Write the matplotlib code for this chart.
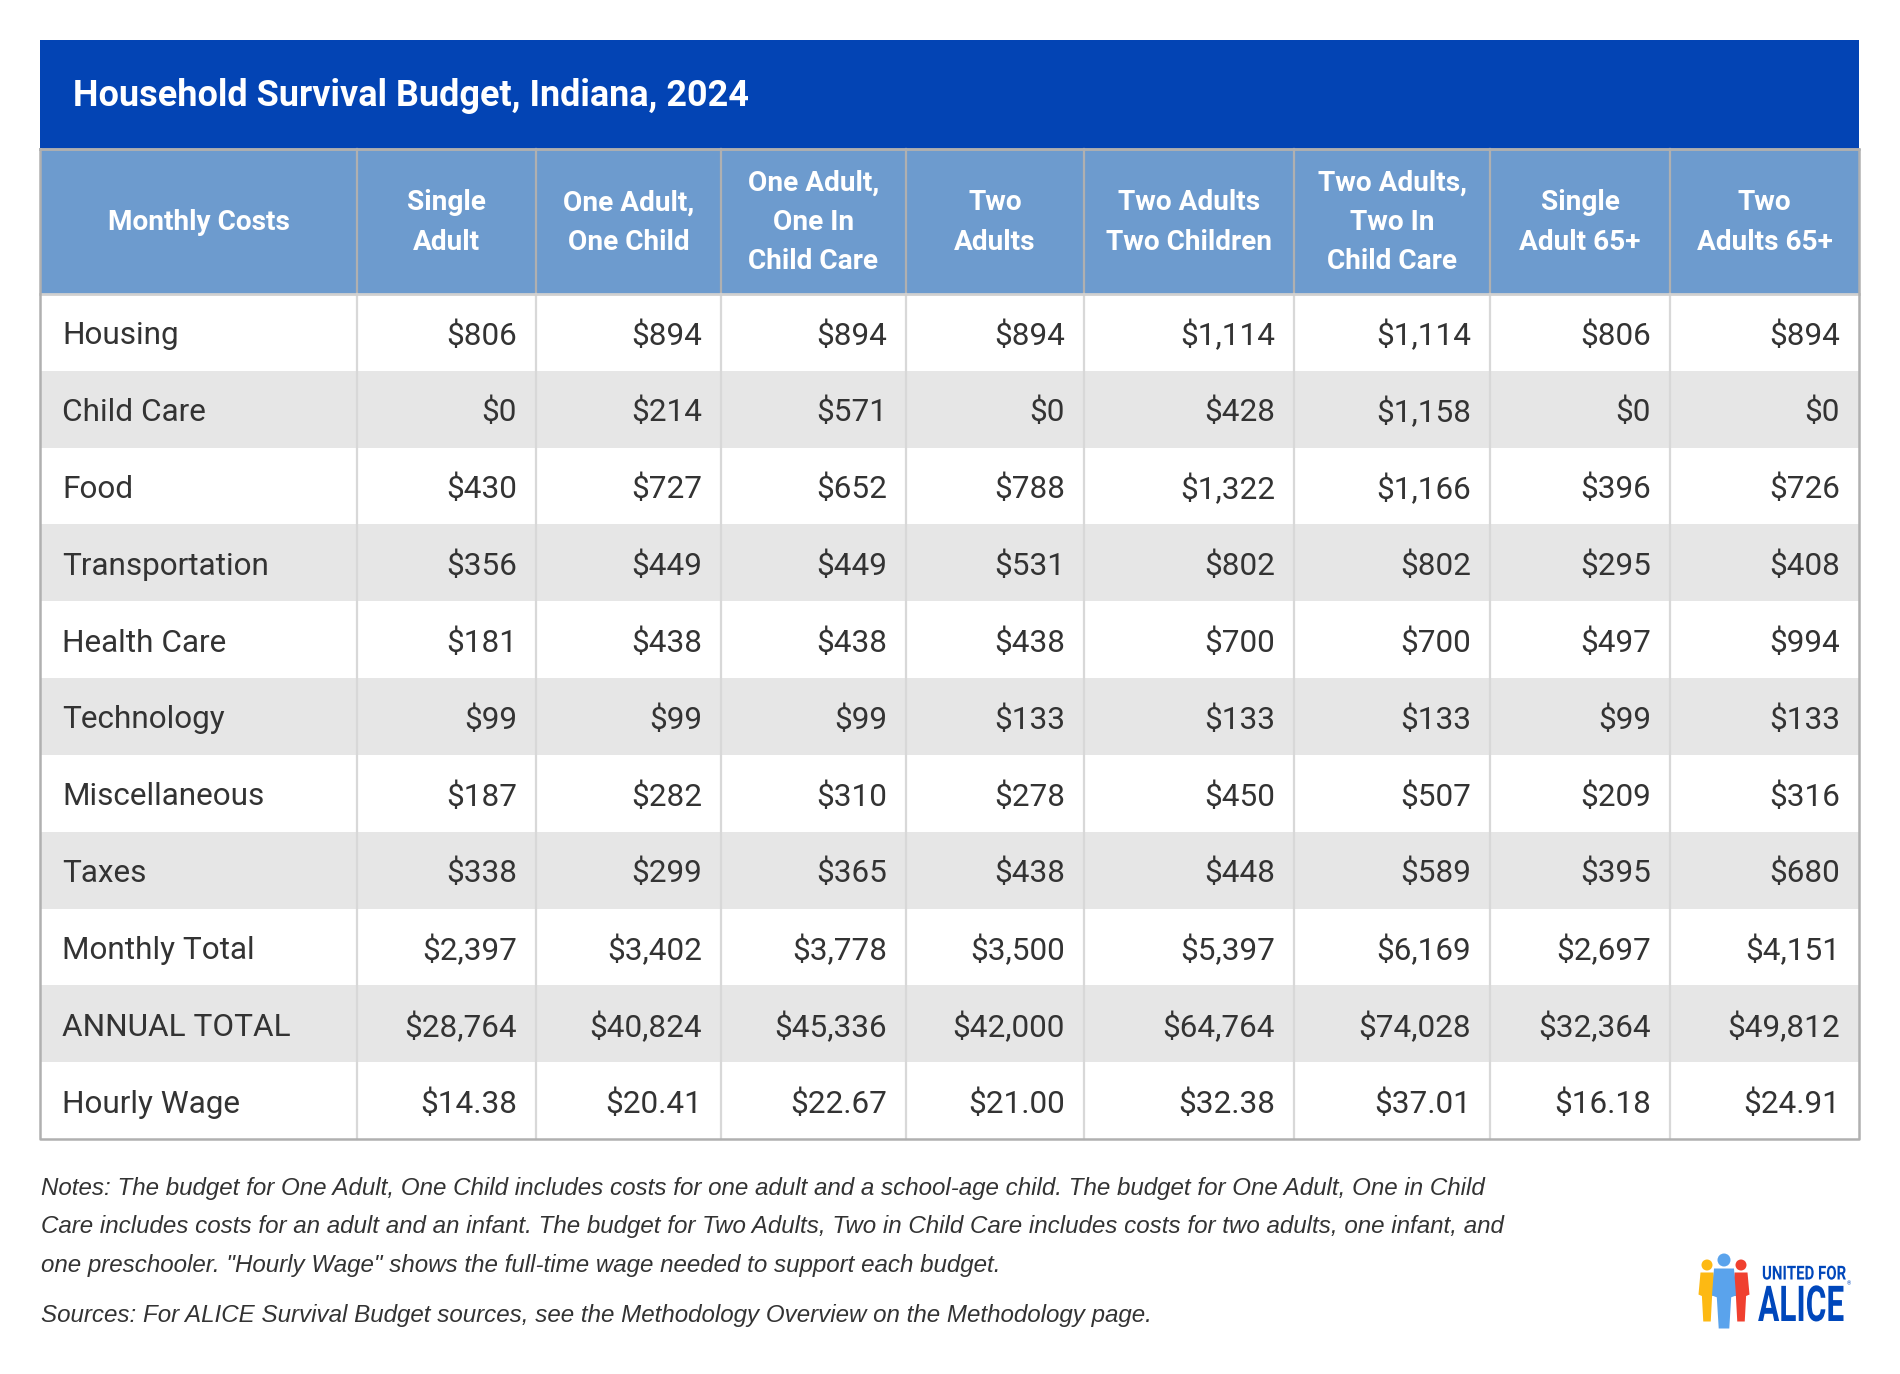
import matplotlib
matplotlib.use("Agg")
import matplotlib.pyplot as plt
from matplotlib.patches import Rectangle, Circle, Polygon
from matplotlib.patheffects import AbstractPathEffect
from matplotlib.transforms import Affine2D
from matplotlib import font_manager

# ---------------- data ----------------
title = "Household Survival Budget, Indiana, 2024"
first_header = "Monthly Costs"
household_types = [
    "Single\nAdult", "One Adult,\nOne Child", "One Adult,\nOne In\nChild Care",
    "Two\nAdults", "Two Adults\nTwo Children", "Two Adults,\nTwo In\nChild Care",
    "Single\nAdult 65+", "Two\nAdults 65+",
]
cost_items = ["Housing", "Child Care", "Food", "Transportation", "Health Care",
              "Technology", "Miscellaneous", "Taxes", "Monthly Total",
              "ANNUAL TOTAL", "Hourly Wage"]
housing        = [806, 894, 894, 894, 1114, 1114, 806, 894]
child_care     = [0, 214, 571, 0, 428, 1158, 0, 0]
food           = [430, 727, 652, 788, 1322, 1166, 396, 726]
transportation = [356, 449, 449, 531, 802, 802, 295, 408]
health_care    = [181, 438, 438, 438, 700, 700, 497, 994]
technology     = [99, 99, 99, 133, 133, 133, 99, 133]
miscellaneous  = [187, 282, 310, 278, 450, 507, 209, 316]
taxes          = [338, 299, 365, 438, 448, 589, 395, 680]
monthly_total  = [2397, 3402, 3778, 3500, 5397, 6169, 2697, 4151]
annual_total   = [28764, 40824, 45336, 42000, 64764, 74028, 32364, 49812]
hourly_wage    = [14.38, 20.41, 22.67, 21.00, 32.38, 37.01, 16.18, 24.91]
notes = [
    "Notes: The budget for One Adult, One Child includes costs for one adult and a school-age child. The budget for One Adult, One in Child",
    "Care includes costs for an adult and an infant. The budget for Two Adults, Two in Child Care includes costs for two adults, one infant, and",
    "one preschooler. \"Hourly Wage\" shows the full-time wage needed to support each budget.",
]
sources = "Sources: For ALICE Survival Budget sources, see the Methodology Overview on the Methodology page."
logo_top = "UNITED FOR"
logo_main = "ALICE"

rows = [housing, child_care, food, transportation, health_care, technology,
        miscellaneous, taxes, monthly_total, annual_total, hourly_wage]

# ---------------- layout ----------------
W, H = 1900, 1374
fig = plt.figure(figsize=(W / 100, H / 100), dpi=100)
ax = fig.add_axes([0, 0, 1, 1])
ax.set_xlim(0, W)
ax.set_ylim(H, 0)
ax.axis("off")
renderer = fig.canvas.get_renderer()


def fit(text, target, **kw):
    t = ax.text(0, 0, text, fontsize=20, **kw)
    w = t.get_window_extent(renderer).width
    t.remove()
    return 20 * target / w


class Condense(AbstractPathEffect):
    """Horizontally condense a text around a display-x anchor."""
    def __init__(self, sx, x0):
        super().__init__()
        self.sx, self.x0 = sx, x0

    def draw_path(self, renderer, gc, tpath, affine, rgbFace=None):
        t = affine + Affine2D().translate(-self.x0, 0).scale(self.sx, 1).translate(self.x0, 0)
        renderer.draw_path(gc, tpath, t, rgbFace)


ROBOTO = "Roboto"
fams = {f.name for f in font_manager.fontManager.ttflist}
NOTE_FONT = "Liberation Sans" if "Liberation Sans" in fams else "DejaVu Sans"

col_edges = [40, 357, 536, 721, 906, 1084, 1294, 1490, 1670, 1859]
title_top, title_bot = 40, 149
head_bot = 294
row_h = (1139 - head_bot) / len(rows)

BLUE = "#0344B4"
HEAD = "#6D9BCE"
ALT = "#E6E6E6"
TXT = "#333333"

# title band
ax.add_patch(Rectangle((col_edges[0], title_top), col_edges[-1] - col_edges[0],
                       title_bot - title_top, facecolor=BLUE, edgecolor="none"))
ts = fit(title, 673, family=ROBOTO, weight="bold")
ax.text(73, (title_top + title_bot) / 2 + 1, title, family=ROBOTO, weight="bold",
        fontsize=ts, color="white", va="center", ha="left")

# header row
ax.add_patch(Rectangle((col_edges[0], title_bot), col_edges[-1] - col_edges[0],
                       head_bot - title_bot, facecolor=HEAD, edgecolor="none"))
hs = fit(first_header, 182, family=ROBOTO, weight="bold")
headers = [first_header] + household_types
hc = (title_bot + head_bot) / 2 + 1
for i, lab in enumerate(headers):
    lines = lab.split("\n")
    xc = (col_edges[i] + col_edges[i + 1]) / 2
    n = len(lines)
    for k, ln in enumerate(lines):
        y = hc + (k - (n - 1) / 2) * 39.3
        ax.text(xc, y, ln, family=ROBOTO, weight="bold", fontsize=hs,
                color="white", ha="center", va="center")

# body rows
bs = fit("Transportation", 207, family=ROBOTO)
for r, (item, vals) in enumerate(zip(cost_items, rows)):
    y0 = head_bot + r * row_h
    if r % 2 == 1:
        ax.add_patch(Rectangle((col_edges[0], y0), col_edges[-1] - col_edges[0],
                               row_h, facecolor=ALT, edgecolor="none"))
    yc = y0 + row_h / 2 + 0.5
    ax.text(62, yc, item, family=ROBOTO, fontsize=bs, color=TXT,
            ha="left", va="center_baseline")
    for c, v in enumerate(vals):
        s = f"${v:,.2f}" if item == "Hourly Wage" else f"${v:,.0f}"
        ax.text(col_edges[c + 2] - 19, yc, s, family=ROBOTO, fontsize=bs,
                color=TXT, ha="right", va="center_baseline")

# grid lines
for x in col_edges[1:-1]:
    ax.plot([x, x], [title_bot, head_bot], color="#B0B0B0", lw=1.6)
    ax.plot([x, x], [head_bot, 1139], color="#D8D8D8", lw=1.6)
ax.plot([col_edges[0], col_edges[-1]], [title_bot, title_bot], color="#B0B0B0", lw=1.8)
ax.plot([col_edges[0], col_edges[-1]], [head_bot, head_bot], color="#D0D0D0", lw=2)
ax.plot([col_edges[0], col_edges[0], col_edges[-1], col_edges[-1], col_edges[0]],
        [title_bot, 1139, 1139, title_bot, title_bot], color="#B0B0B0", lw=1.8)

# notes
ns = fit(notes[1], 1457, family=NOTE_FONT, style="italic")
for k, ln in enumerate(notes):
    ax.text(41, 1188.5 + k * 38.5, ln, family=NOTE_FONT, style="italic",
            fontsize=ns, color=TXT, ha="left", va="center")
ax.text(41, 1315.5, sources, family=NOTE_FONT, style="italic", fontsize=ns,
        color=TXT, ha="left", va="center")

# logo
def person(cx, top, w, h, hr, color, z):
    ax.add_patch(Circle((cx, top), hr, color=color, zorder=z, lw=0))
    b = top + hr + 2
    pts = [(cx - w / 2, b + h * 0.45), (cx - w / 2 + 2, b), (cx + w / 2 - 2, b),
           (cx + w / 2, b + h * 0.45), (cx + w * 0.3, b + h * 0.48),
           (cx + w * 0.22, b + h), (cx - w * 0.22, b + h), (cx - w * 0.3, b + h * 0.48)]
    ax.add_patch(Polygon(pts, closed=True, color=color, zorder=z, lw=0))

person(1707, 1265, 17, 49, 5.5, "#FDB913", 3)
person(1741, 1265, 17, 49, 5.5, "#F0402F", 3)
person(1724, 1260, 24, 60, 6.5, "#5AA3EC", 4)

LOGO_BLUE = "#0047BB"
x_top, x_main = 1762, 1758
s_top = fit(logo_top, 84 / 0.78, family=ROBOTO, weight="bold")
s_main = fit(logo_main, 86 / 0.64, family=ROBOTO, weight="bold")
ax.text(x_top, 1279.5, logo_top, family=ROBOTO, weight="bold", fontsize=s_top,
        color=LOGO_BLUE, ha="left", va="baseline",
        path_effects=[Condense(0.78, x_top)])
ax.text(x_main, 1321, logo_main, family=ROBOTO, weight="bold", fontsize=s_main,
        color=LOGO_BLUE, ha="left", va="baseline",
        path_effects=[Condense(0.64, x_main)])
ax.text(1847, 1284, "®", family=ROBOTO, fontsize=4, color=LOGO_BLUE,
        ha="left", va="center")

fig.savefig("out.png", dpi=100, facecolor="white")
